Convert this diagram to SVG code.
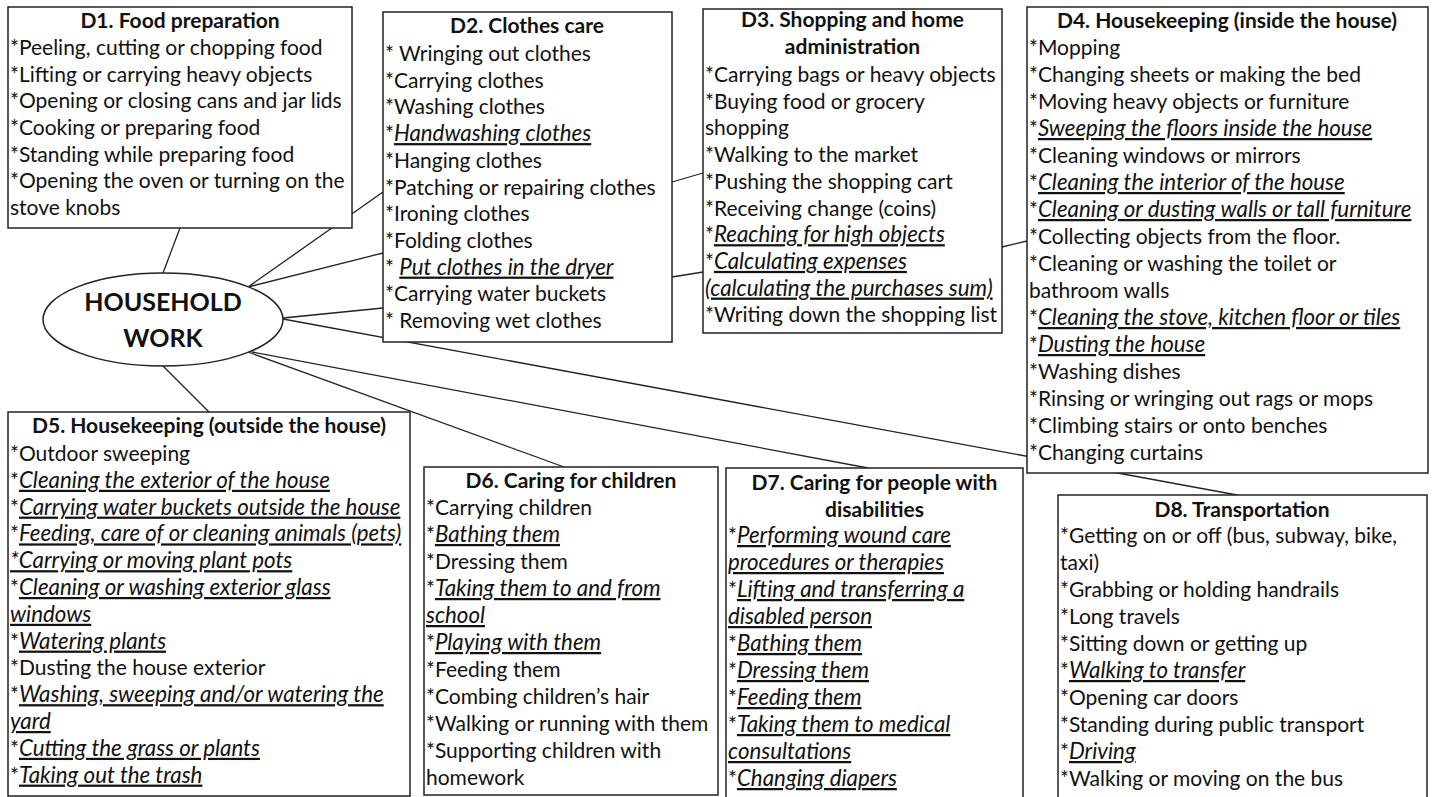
<svg xmlns="http://www.w3.org/2000/svg" width="1432" height="797" viewBox="0 0 1432 797">
<style>
.box{fill:#fff;stroke:#222;stroke-width:1.5}
.c{stroke:#222;stroke-width:1.3;fill:none}
text{font-family:Lato,"Open Sans","Liberation Sans",sans-serif;font-size:21px;fill:#111}
.t{font-weight:bold;text-anchor:middle}
.u{font-style:italic;text-decoration:underline;font-size:22.3px}
.big{font-weight:bold;font-size:25px;text-anchor:middle}
</style>
<rect width="1432" height="797" fill="#fff"/>
<g id="connectors">
<line class="c" x1="163" y1="273" x2="180" y2="228"/>
<line class="c" x1="248" y1="287" x2="383" y2="192"/>
<line class="c" x1="248" y1="287" x2="383" y2="253"/>
<line class="c" x1="283" y1="318" x2="383" y2="308"/>
<line class="c" x1="283" y1="319" x2="1237" y2="495"/>
<line class="c" x1="248" y1="352" x2="564" y2="467"/>
<line class="c" x1="252" y1="352" x2="868" y2="468"/>
<line class="c" x1="163" y1="366" x2="209" y2="412"/>
<line class="c" x1="672" y1="182" x2="703" y2="173"/>
<line class="c" x1="672" y1="277" x2="703" y2="272"/>
<line class="c" x1="1002" y1="247" x2="1027" y2="241"/>
</g>
<g id="hub">
<ellipse class="box" cx="163" cy="319.5" rx="120" ry="46.5"/>
<text class="big" x="163" y="311">HOUSEHOLD</text>
<text class="big" x="163" y="347">WORK</text>
</g>
<g id="d1">
<rect class="box" x="8" y="7" width="344" height="221"/>
<text class="t" x="180" y="28">D1. Food preparation</text>
<text x="10" y="55">*Peeling, cutting or chopping food</text>
<text x="10" y="82">*Lifting or carrying heavy objects</text>
<text x="10" y="108">*Opening or closing cans and jar lids</text>
<text x="10" y="135">*Cooking or preparing food</text>
<text x="10" y="162">*Standing while preparing food</text>
<text x="10" y="188">*Opening the oven or turning on the</text>
<text x="10" y="215">stove knobs</text>
</g>
<g id="d2">
<rect class="box" x="383" y="12" width="289" height="330"/>
<text class="t" x="527" y="33">D2. Clothes care</text>
<text x="385" y="61">* Wringing out clothes</text>
<text x="385" y="87.7">*Carrying clothes</text>
<text x="385" y="114.4">*Washing clothes</text>
<text x="385" y="141.1">*<tspan class="u">Handwashing  clothes</tspan></text>
<text x="385" y="167.8">*Hanging clothes</text>
<text x="385" y="194.5">*Patching or repairing clothes</text>
<text x="385" y="221.2">*Ironing clothes</text>
<text x="385" y="247.9">*Folding clothes</text>
<text x="385" y="274.6">*  <tspan class="u">Put clothes in the dryer</tspan></text>
<text x="385" y="301.3">*Carrying water buckets</text>
<text x="385" y="328">* Removing wet clothes</text>
</g>
<g id="d3">
<rect class="box" x="703" y="9" width="299" height="324"/>
<text class="t" x="852.5" y="27">D3. Shopping and home</text>
<text class="t" x="852.5" y="54">administration</text>
<text x="705" y="82">*Carrying bags or heavy objects</text>
<text x="705" y="108.7">*Buying food or grocery</text>
<text x="705" y="135.4">shopping</text>
<text x="705" y="162.1">*Walking to the market</text>
<text x="705" y="188.8">*Pushing the shopping cart</text>
<text x="705" y="215.5">*Receiving change (coins)</text>
<text x="705" y="242.2">*<tspan class="u">Reaching for high objects</tspan></text>
<text x="705" y="268.9">*<tspan class="u">Calculating expenses</tspan></text>
<text x="705" y="295.6"><tspan class="u">(calculating the purchases sum)</tspan></text>
<text x="705" y="322.3">*Writing down the shopping list</text>
</g>
<g id="d4">
<rect class="box" x="1027" y="7" width="401" height="466"/>
<text class="t" x="1227" y="28">D4. Housekeeping (inside the house)</text>
<text x="1029" y="55">*Mopping</text>
<text x="1029" y="82">*Changing sheets or making the bed</text>
<text x="1029" y="109">*Moving heavy objects or furniture</text>
<text x="1029" y="136">*<tspan class="u">Sweeping the floors inside the house</tspan></text>
<text x="1029" y="163">*Cleaning windows or mirrors</text>
<text x="1029" y="190">*<tspan class="u">Cleaning the interior of the house</tspan></text>
<text x="1029" y="217">*<tspan class="u">Cleaning or dusting walls or tall furniture</tspan></text>
<text x="1029" y="244">*Collecting objects from the floor.</text>
<text x="1029" y="271">*Cleaning or washing the toilet or</text>
<text x="1029" y="298">bathroom walls</text>
<text x="1029" y="325">*<tspan class="u">Cleaning the stove, kitchen floor or tiles</tspan></text>
<text x="1029" y="352">*<tspan class="u">Dusting the house</tspan></text>
<text x="1029" y="379">*Washing dishes</text>
<text x="1029" y="406">*Rinsing or wringing out rags or mops</text>
<text x="1029" y="433">*Climbing stairs or onto benches</text>
<text x="1029" y="460">*Changing curtains</text>
</g>
<g id="d5">
<rect class="box" x="8" y="412" width="402" height="384"/>
<text class="t" x="209" y="433">D5. Housekeeping (outside the house)</text>
<text x="10" y="461">*Outdoor sweeping</text>
<text x="10" y="487.8">*<tspan class="u">Cleaning the exterior of the house</tspan></text>
<text x="10" y="514.6">*<tspan class="u">Carrying water buckets outside the house</tspan></text>
<text x="10" y="541.4">*<tspan class="u">Feeding, care of or cleaning animals (pets)</tspan></text>
<text x="10" y="568.2"><tspan class="u">*Carrying or moving plant pots</tspan></text>
<text x="10" y="595">*<tspan class="u">Cleaning or washing exterior glass</tspan></text>
<text x="10" y="621.8"><tspan class="u">windows</tspan></text>
<text x="10" y="648.6">*<tspan class="u">Watering plants</tspan></text>
<text x="10" y="675.4">*Dusting the house exterior</text>
<text x="10" y="702.2">*<tspan class="u">Washing, sweeping and/or watering the</tspan></text>
<text x="10" y="729"><tspan class="u">yard</tspan></text>
<text x="10" y="755.8">*<tspan class="u">Cutting the grass or plants</tspan></text>
<text x="10" y="782.6">*<tspan class="u">Taking out the trash</tspan></text>
</g>
<g id="d6">
<rect class="box" x="424" y="467" width="294" height="328"/>
<text class="t" x="571" y="488">D6. Caring for children</text>
<text x="426" y="515">*Carrying children</text>
<text x="426" y="542">*<tspan class="u">Bathing them</tspan></text>
<text x="426" y="569">*Dressing them</text>
<text x="426" y="596">*<tspan class="u">Taking them to and from</tspan></text>
<text x="426" y="623"><tspan class="u">school</tspan></text>
<text x="426" y="650">*<tspan class="u">Playing with them</tspan></text>
<text x="426" y="677">*Feeding them</text>
<text x="426" y="704">*Combing children’s hair</text>
<text x="426" y="731">*Walking or running with them</text>
<text x="426" y="758">*Supporting children with</text>
<text x="426" y="785">homework</text>
</g>
<g id="d7">
<rect class="box" x="726" y="468" width="297" height="340"/>
<text class="t" x="874.5" y="490">D7. Caring for people with</text>
<text class="t" x="874.5" y="517">disabilities</text>
<text x="728" y="543">*<tspan class="u">Performing wound care</tspan></text>
<text x="728" y="570"><tspan class="u">procedures or therapies</tspan></text>
<text x="728" y="597">*<tspan class="u">Lifting and transferring a</tspan></text>
<text x="728" y="624"><tspan class="u">disabled person</tspan></text>
<text x="728" y="651">*<tspan class="u">Bathing them</tspan></text>
<text x="728" y="678">*<tspan class="u">Dressing them</tspan></text>
<text x="728" y="705">*<tspan class="u">Feeding them</tspan></text>
<text x="728" y="732">*<tspan class="u">Taking them to medical</tspan></text>
<text x="728" y="759"><tspan class="u">consultations</tspan></text>
<text x="728" y="786">*<tspan class="u">Changing  diapers</tspan></text>
</g>
<g id="d8">
<rect class="box" x="1058" y="495" width="369" height="320"/>
<text class="t" x="1242" y="517">D8. Transportation</text>
<text x="1060" y="543">*Getting on or off (bus, subway, bike,</text>
<text x="1060" y="570">taxi)</text>
<text x="1060" y="597">*Grabbing or holding handrails</text>
<text x="1060" y="624">*Long travels</text>
<text x="1060" y="651">*Sitting down or getting up</text>
<text x="1060" y="678">*<tspan class="u">Walking to transfer</tspan></text>
<text x="1060" y="705">*Opening car doors</text>
<text x="1060" y="732">*Standing during public transport</text>
<text x="1060" y="759">*<tspan class="u">Driving</tspan></text>
<text x="1060" y="786">*Walking or moving on the bus</text>
</g>
</svg>
